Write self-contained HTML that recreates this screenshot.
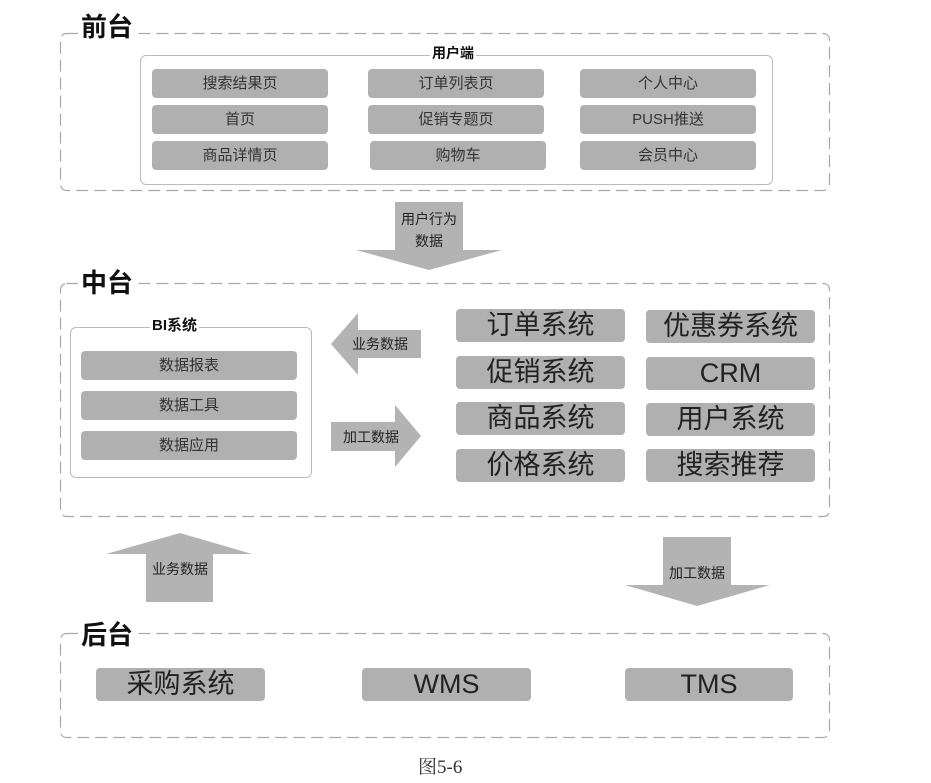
<!DOCTYPE html>
<html><head><meta charset="utf-8"><style>
body{margin:0;width:931px;height:783px;background:#fff;position:relative;overflow:hidden;font-family:"Liberation Sans","Noto Sans CJK SC",sans-serif;color:#222}
.a{position:absolute}
.t{position:absolute;background:#fff;font-weight:bold;font-size:26px;line-height:30px;padding:0 3px;color:#111}
.box{position:absolute;border:1px solid #bbb;border-radius:6px}
.lbl{position:absolute;background:#fff;font-size:15px;font-weight:bold;line-height:18px;padding:0 2px;color:#111}
.b{position:absolute;background:#b0b0b0;border-radius:4px;text-align:center;color:#333}
.s{font-size:15px;line-height:29px;height:29px;width:176px}
.L{font-size:27px;line-height:33px;height:33px;width:169px;color:#222}
</style></head><body>
<svg class="a" style="left:0;top:0" width="931" height="783">
<g fill="none" stroke="#a8a8a8" stroke-width="1.2" stroke-dasharray="12,6">
<rect x="60.5" y="33.5" width="769" height="157" rx="6"/>
<rect x="60.5" y="283.5" width="769" height="233" rx="6"/>
<rect x="60.5" y="633.5" width="769" height="104" rx="6"/>
</g>
</svg>
<div class="t" style="left:78px;top:12px">前台</div>
<div class="box" style="left:140px;top:55px;width:631px;height:128px"></div>
<div class="lbl" style="left:430px;top:44px;font-size:14px">用户端</div>
<div class="b s" style="left:152px;top:69px">搜索结果页</div>
<div class="b s" style="left:368px;top:69px">订单列表页</div>
<div class="b s" style="left:580px;top:69px">个人中心</div>
<div class="b s" style="left:152px;top:105px">首页</div>
<div class="b s" style="left:368px;top:105px">促销专题页</div>
<div class="b s" style="left:580px;top:105px">PUSH推送</div>
<div class="b s" style="left:152px;top:141px">商品详情页</div>
<div class="b s" style="left:370px;top:141px">购物车</div>
<div class="b s" style="left:580px;top:141px">会员中心</div>

<svg class="a" style="left:0;top:0" width="931" height="783">
<g fill="#b3b3b3">
<rect x="395" y="202" width="68" height="49"/><polygon points="356,250 502,250 429,270"/>
<rect x="358" y="330" width="63" height="28"/><polygon points="358,313 358,375 331,344"/>
<rect x="331" y="422" width="64" height="29"/><polygon points="395,405 395,467 421,436"/>
<rect x="146" y="553" width="67" height="49"/><polygon points="106,554 252,554 180,533"/>
<rect x="663" y="537" width="68" height="49"/><polygon points="625,585 770,585 697,606"/>
</g>
</svg>
<div class="a" style="left:395px;top:208px;width:68px;text-align:center;font-size:14px;line-height:22px;color:#222">用户行为<br>数据</div>
<div class="a" style="left:340px;top:335px;width:80px;text-align:center;font-size:14px;line-height:18px">业务数据</div>
<div class="a" style="left:331px;top:428px;width:80px;text-align:center;font-size:14px;line-height:18px">加工数据</div>
<div class="a" style="left:140px;top:560px;width:80px;text-align:center;font-size:14px;line-height:18px">业务数据</div>
<div class="a" style="left:657px;top:564px;width:80px;text-align:center;font-size:14px;line-height:18px">加工数据</div>

<div class="t" style="left:78px;top:268px">中台</div>
<div class="box" style="left:70px;top:327px;width:240px;height:149px"></div>
<div class="lbl" style="left:150px;top:317px">BI系统</div>
<div class="b s" style="left:81px;top:351px;width:216px">数据报表</div>
<div class="b s" style="left:81px;top:391px;width:216px">数据工具</div>
<div class="b s" style="left:81px;top:431px;width:216px">数据应用</div>
<div class="b L" style="left:456px;top:309px">订单系统</div>
<div class="b L" style="left:646px;top:310px">优惠券系统</div>
<div class="b L" style="left:456px;top:356px">促销系统</div>
<div class="b L" style="left:646px;top:357px">CRM</div>
<div class="b L" style="left:456px;top:402px">商品系统</div>
<div class="b L" style="left:646px;top:403px">用户系统</div>
<div class="b L" style="left:456px;top:449px">价格系统</div>
<div class="b L" style="left:646px;top:449px">搜索推荐</div>

<div class="t" style="left:78px;top:620px">后台</div>
<div class="b L" style="left:96px;top:668px">采购系统</div>
<div class="b L" style="left:362px;top:668px">WMS</div>
<div class="b L" style="left:625px;top:668px;width:168px">TMS</div>

<div class="a" style="left:418px;top:756px;font-family:'Liberation Serif','Noto Serif CJK SC',serif;font-size:19px;line-height:24px;color:#333">图5-6</div>
</body></html>
